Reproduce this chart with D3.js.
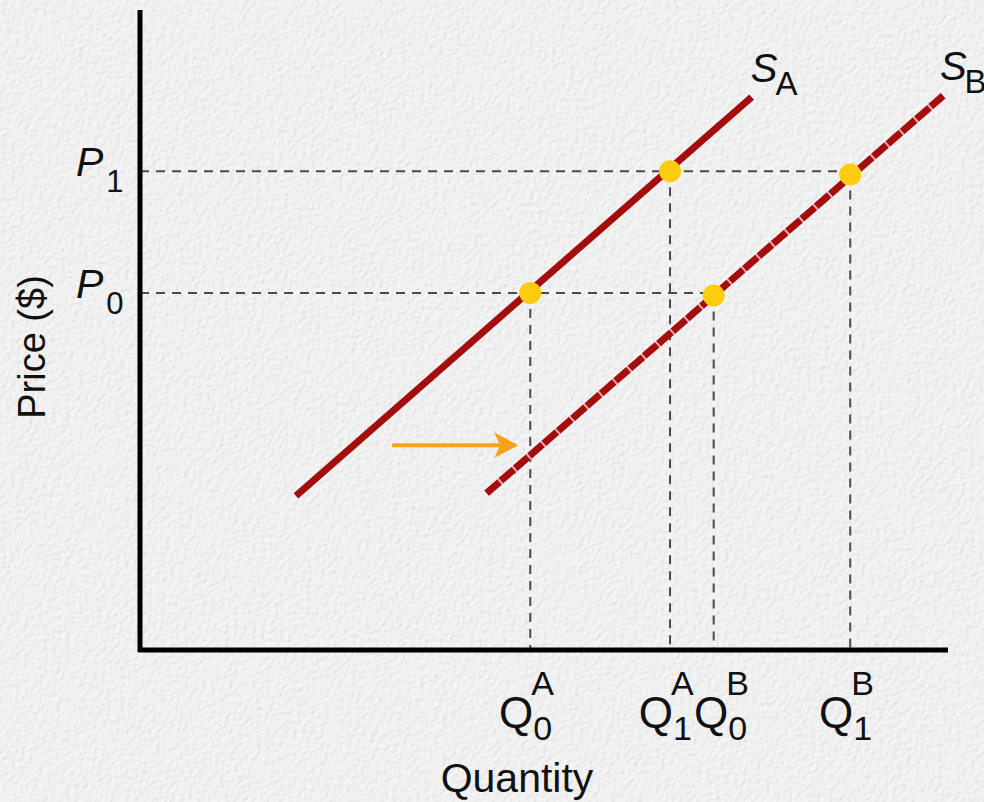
<!DOCTYPE html>
<html>
<head>
<meta charset="utf-8">
<script src="https://cdn.jsdelivr.net/npm/d3@7"></script>
<style>
  body { margin: 0; background: #efefef; }
  svg { display: block; font-family: "Liberation Sans", Arial, sans-serif; }
</style>
</head>
<body>
<div id="chart"></div>
<script>
// supply shift diagram (quantity / price, 0-100 units)
var supplyA = [{q: 19.3, p: 24.1}, {q: 75.7, p: 86.4}];
var supplyB = [{q: 42.9, p: 24.5}, {q: 99.4, p: 86.6}];
var priceLevels = [{name: "P", sub: "1", p: 74.8}, {name: "P", sub: "0", p: 55.8}];
var qtyLevels = [
  {sup: "A", sub: "0", q: 48.3, p: 55.8},
  {sup: "A", sub: "1", q: 65.6, p: 74.8},
  {sup: "B", sub: "0", q: 71.0, p: 55.4},
  {sup: "B", sub: "1", q: 87.9, p: 74.3}
];
var curveLabels = [{sub: "A", q: 75.6, p: 88.8}, {sub: "B", q: 99.0, p: 89.0}];
var shiftArrow = [{q: 31.2, p: 32.0}, {q: 46.5, p: 32.0}];

var width = 984, height = 802;
var margin = {top: 10, right: 36, bottom: 152, left: 140};

var x = d3.scaleLinear().domain([0, 100]).range([margin.left, width - margin.right]);
var y = d3.scaleLinear().domain([0, 100]).range([height - margin.bottom, margin.top]);

var svg = d3.select("#chart").append("svg")
  .attr("width", width)
  .attr("height", height);

// paper texture
var defs = svg.append("defs");
var f = defs.append("filter").attr("id", "paper").attr("x", 0).attr("y", 0).attr("width", "100%").attr("height", "100%");
f.append("feTurbulence").attr("type", "fractalNoise").attr("baseFrequency", 0.22).attr("numOctaves", 3).attr("result", "noise");
f.append("feDiffuseLighting").attr("in", "noise").attr("lighting-color", "#ffffff").attr("surfaceScale", 1.2)
  .append("feDistantLight").attr("azimuth", 45).attr("elevation", 62);

svg.append("rect").attr("width", width).attr("height", height).attr("fill", "#f1f1f1");
svg.append("rect").attr("width", width).attr("height", height).attr("filter", "url(#paper)").style("opacity", 0.45);

defs.append("marker")
  .attr("id", "arrowhead")
  .attr("viewBox", "0 0 10 10")
  .attr("refX", 9).attr("refY", 5)
  .attr("markerWidth", 24).attr("markerHeight", 26)
  .attr("markerUnits", "userSpaceOnUse")
  .attr("orient", "auto")
  .attr("preserveAspectRatio", "none")
  .append("path").attr("d", "M0,0 L10,5 L0,10 L2.5,5 Z").attr("fill", "#f7a21b");

var line = d3.line().x(function (d) { return x(d.q); }).y(function (d) { return y(d.p); });

// guide lines
var guides = svg.append("g").attr("class", "guides")
  .attr("stroke", "#4a4a4a").attr("stroke-width", 2).attr("stroke-dasharray", "9,7").attr("fill", "none");

guides.selectAll(".hguide")
  .data([{p: priceLevels[0].p, q: qtyLevels[3].q}, {p: priceLevels[1].p, q: qtyLevels[2].q}])
  .enter().append("line")
  .attr("x1", x(0)).attr("x2", function (d) { return x(d.q); })
  .attr("y1", function (d) { return y(d.p); }).attr("y2", function (d) { return y(d.p); });

guides.selectAll(".vguide")
  .data(qtyLevels)
  .enter().append("line")
  .attr("x1", function (d) { return x(d.q); }).attr("x2", function (d) { return x(d.q); })
  .attr("y1", function (d) { return y(d.p); }).attr("y2", y(0));

// supply curves
svg.append("path").datum(supplyA)
  .attr("d", line).attr("fill", "none")
  .attr("stroke", "#a50d0d").attr("stroke-width", 7);

// new curve: pale under-stroke so the dash gaps read pinkish
svg.append("path").datum(supplyB)
  .attr("d", line).attr("fill", "none")
  .attr("stroke", "#e3aaaa").attr("stroke-width", 7);
svg.append("path").datum(supplyB)
  .attr("d", line).attr("fill", "none")
  .attr("stroke", "#a50d0d").attr("stroke-width", 7).attr("stroke-dasharray", "17,2");

// shift arrow
svg.append("path").datum(shiftArrow)
  .attr("d", line).attr("fill", "none")
  .attr("stroke", "#f7a21b").attr("stroke-width", 4)
  .attr("marker-end", "url(#arrowhead)");

// equilibrium points
svg.selectAll(".pt")
  .data(qtyLevels)
  .enter().append("circle")
  .attr("class", "pt")
  .attr("cx", function (d) { return x(d.q); })
  .attr("cy", function (d) { return y(d.p); })
  .attr("r", 11)
  .attr("fill", "#ffcc11");

// axes
svg.append("line").attr("x1", x(0)).attr("x2", x(0)).attr("y1", y(100)).attr("y2", y(0) + 2)
  .attr("stroke", "#000").attr("stroke-width", 5);
svg.append("line").attr("x1", x(0) - 2).attr("x2", x(100)).attr("y1", y(0)).attr("y2", y(0))
  .attr("stroke", "#000").attr("stroke-width", 5);

// price labels
var pl = svg.selectAll(".plabel")
  .data(priceLevels)
  .enter().append("text")
  .attr("class", "plabel")
  .attr("x", x(0) - 64)
  .attr("y", function (d) { return y(d.p) + 5; })
  .style("font-size", "41px").attr("fill", "#111");
pl.append("tspan").style("font-style", "italic").text(function (d) { return d.name; });
pl.append("tspan").attr("dy", 16).attr("dx", 3).style("font-size", "31px").text(function (d) { return d.sub; });

// quantity labels: Q right edge sits at the guide, pushed right if it would hit the previous label
var qSize = 44, scriptSize = 34;
var ql = svg.selectAll(".qlabel")
  .data(qtyLevels)
  .enter().append("g")
  .attr("class", "qlabel")
  .attr("fill", "#111");
var qText = ql.append("text").attr("y", 728).style("font-size", qSize + "px").text("Q");
var qw = qText.node().getComputedTextLength();
var prevEnd = -Infinity;
ql.each(function (d) {
  var left = Math.max(x(d.q) + 3 - qw, prevEnd + 3);
  d.lx = left;
  prevEnd = left + qw + 18;
});
qText.attr("x", function (d) { return d.lx; });
ql.append("text").attr("x", function (d) { return d.lx + qw; }).attr("y", 740)
  .style("font-size", scriptSize + "px").text(function (d) { return d.sub; });
ql.append("text").attr("x", function (d) { return d.lx + qw - 2; }).attr("y", 695)
  .style("font-size", scriptSize + "px").text(function (d) { return d.sup; });

// curve labels
var cl = svg.selectAll(".clabel")
  .data(curveLabels)
  .enter().append("text")
  .attr("class", "clabel")
  .attr("x", function (d) { return x(d.q); })
  .attr("y", function (d) { return y(d.p); })
  .style("font-size", "40px").attr("fill", "#111");
cl.append("tspan").style("font-style", "italic").text("S");
cl.append("tspan").attr("dy", 13).attr("dx", -2).style("font-size", "33px").text(function (d) { return d.sub; });

// axis titles
svg.append("text")
  .attr("x", 517).attr("y", 792)
  .attr("text-anchor", "middle")
  .style("font-size", "41px").attr("fill", "#111")
  .text("Quantity");

svg.append("text")
  .attr("transform", "translate(45," + 347 + ") rotate(-90)")
  .attr("text-anchor", "middle")
  .style("font-size", "38px").attr("fill", "#111")
  .text("Price ($)");
</script>
</body>
</html>
